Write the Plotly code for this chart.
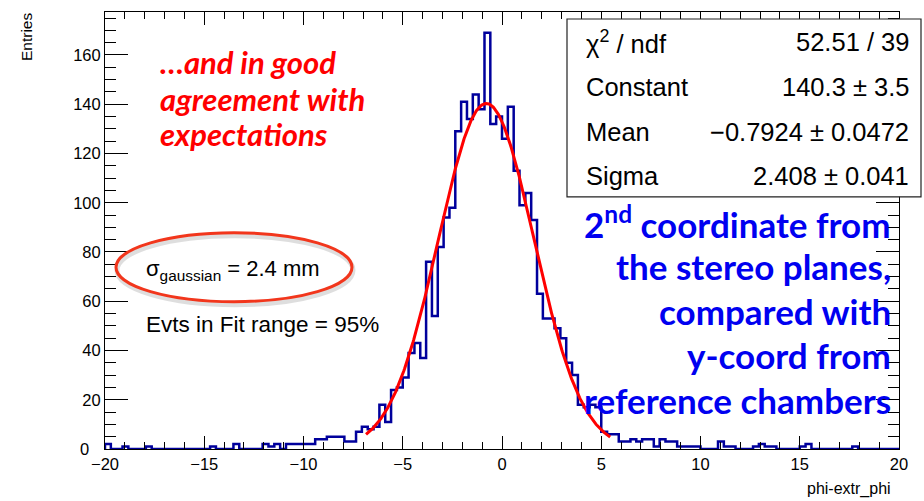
import numpy as np
import plotly.graph_objects as go

# ---- histogram: phi-extr_phi, 136 bins on [-20, 20] ----
x_min, x_max, n_bins = -20.0, 20.0, 136
counts = [
    2, 0, 0, 1, 0, 0, 0, 1, 0, 0,          # 0-9
    0, 0, 0, 0, 0, 0, 0, 0, 1, 0,          # 10-19
    0, 0, 2, 0, 0, 0, 0, 2, 1, 2,          # 20-29
    0, 2, 2, 2, 2, 2, 4, 4, 5, 5,          # 30-39
    5, 3, 3, 7, 9, 8, 9, 18, 11, 24,       # 40-49
    25, 29, 39, 43, 37, 76, 54, 82, 94, 98,        # 50-59
    129, 141, 134, 144, 138, 169, 132, 135, 126, 139,  # 60-69
    113, 99, 104, 93, 63, 53, 53, 49, 45, 35,      # 70-79
    30, 18, 17, 18, 17, 7, 6, 6, 3, 3,     # 80-89
    4, 3, 4, 4, 1, 4, 3, 3, 1, 1,          # 90-99
    1, 1, 0, 0, 0, 3, 1, 1, 0, 0,          # 100-109
    0, 1, 2, 1, 1, 0, 0, 0, 0, 1,          # 110-119
    2, 0, 0, 0, 0, 0, 0, 0, 1, 0,          # 120-129
    0, 0, 0, 0, 0, 0,                      # 130-135
]

# ---- gaussian fit result ----
fit_chi2, fit_ndf = 52.51, 39
fit_const, fit_const_err = 140.3, 3.5
fit_mean, fit_mean_err = -0.7924, 0.0472
fit_sigma, fit_sigma_err = 2.408, 0.041
fit_lo, fit_hi = -6.85, 5.45

x_ticks = [-20, -15, -10, -5, 0, 5, 10, 15, 20]
y_ticks = [0, 20, 40, 60, 80, 100, 120, 140, 160]
# the zero label sits a little further left so it clears the x labels
y_ticktext = ["0\u2002\u2009"] + [str(v) for v in y_ticks[1:]]

edges = np.linspace(x_min, x_max, n_bins + 1)
step_x = np.concatenate([[edges[0]], edges])
step_y = np.concatenate([[0], np.asarray(counts, float), [0]])

xg = np.linspace(fit_lo, fit_hi, 400)
yg = fit_const * np.exp(-0.5 * ((xg - fit_mean) / fit_sigma) ** 2)

fig = go.Figure()
fig.add_trace(go.Scatter(x=step_x, y=step_y, mode="lines", line_shape="hv",
                         line=dict(color="#00009c", width=2.5), showlegend=False))
fig.add_trace(go.Scatter(x=xg, y=yg, mode="lines",
                         line=dict(color="#ff0000", width=3), showlegend=False))

# ---- page geometry (pixels) ----
W, H = 924, 501
L, R, T, B = 105, 25, 12, 51.5
PW, PH = W - L - R, H - T - B


def fx(px):
    return (px - L) / PW


def fy(py):
    return (T + PH - py) / PH


base_font = "Liberation Sans, Arial, Helvetica, sans-serif"
slide_font = "Lato, Open Sans, sans-serif"

axis_common = dict(showline=True, linecolor="black", linewidth=1, mirror="allticks",
                   ticks="inside", tickcolor="black", showgrid=False, zeroline=False,
                   tickfont=dict(family=base_font, size=16.5, color="black"))

fig.update_xaxes(range=[x_min, x_max], tickvals=x_ticks,
                 ticktext=[str(v).replace("-", "\u2212") for v in x_ticks],
                 ticklen=13, tickwidth=1,
                 minor=dict(ticks="inside", ticklen=7, dtick=1, tickcolor="black", showgrid=False),
                 **axis_common)
fig.update_yaxes(range=[0, max(counts) * 1.05], tickvals=y_ticks, ticktext=y_ticktext,
                 ticklen=23, tickwidth=1,
                 minor=dict(ticks="inside", ticklen=11, dtick=5, tickcolor="black", showgrid=False),
                 **axis_common)

shapes = []
# ellipse around the resolution value, with a faint drop shadow
shapes.append(dict(type="circle", xref="paper", yref="paper",
                   x0=fx(117), x1=fx(353), y0=fy(305), y1=fy(236),
                   line=dict(color="rgba(0,0,0,0.13)", width=5)))
shapes.append(dict(type="circle", xref="paper", yref="paper",
                   x0=fx(116), x1=fx(352), y0=fy(302), y1=fy(233),
                   line=dict(color="#f2361c", width=3)))
# fit statistics box
shapes.append(dict(type="rect", xref="paper", yref="paper", layer="above",
                   x0=fx(567), x1=fx(921), y0=fy(197), y1=fy(19),
                   fillcolor="white", line=dict(color="#222222", width=1.2)))

ann = []


def text(s, px, py, xanchor="left", size=16, color="black", family=base_font,
         weight="normal", style="normal", angle=0, yanchor="middle"):
    ann.append(dict(text=s, x=fx(px), y=fy(py), xref="paper", yref="paper",
                    xanchor=xanchor, yanchor=yanchor, showarrow=False, textangle=angle,
                    font=dict(family=family, size=size, color=color, weight=weight, style=style)))


# axis titles
text("Entries", 26, 11, xanchor="center", yanchor="top", size=15.5, angle=-90)
text("phi-extr_phi", 893, 490, xanchor="right", size=16)

# statistics box rows
rows = [
    ("\u03c7<sup>2</sup> / ndf", f"{fit_chi2:.2f} / {fit_ndf}", 42),
    ("Constant", f"{fit_const:.1f} \u00b1 {fit_const_err:.1f}", 87),
    ("Mean", f"\u2212{abs(fit_mean):.4f} \u00b1 {fit_mean_err:.4f}", 132),
    ("Sigma", f"{fit_sigma:.3f} \u00b1 {fit_sigma_err:.3f}", 176),
]
for name, val, py in rows:
    text(name, 584, py, size=25.5)
    text(val, 911, py, xanchor="right", size=25.5)

# resolution notes
text("\u03c3<sub>gaussian</sub> = 2.4 mm", 144, 270, size=22)
text("Evts in Fit range = 95%", 144, 325, size=22.5)

# red comment
for s, py in [("\u2026and in good", 62), ("agreement with", 99), ("expectations", 134)]:
    text(s, 158, py, size=31, color="#ff0000", family=slide_font, weight="bold", style="italic")

# blue comment
blue_lines = [("2<sup>nd</sup> coordinate from", 222), ("the stereo planes,", 266),
              ("compared with", 311), ("y-coord from", 355), ("reference chambers", 400)]
for s, py in blue_lines:
    text(s, 893, py, xanchor="right", size=35, color="#0000f0", family=slide_font, weight="bold")

fig.update_layout(width=W, height=H, autosize=False,
                  margin=dict(l=L, r=R, t=T, b=B, pad=0),
                  paper_bgcolor="white", plot_bgcolor="white",
                  shapes=shapes, annotations=ann, showlegend=False)

fig.write_html("out.html")
